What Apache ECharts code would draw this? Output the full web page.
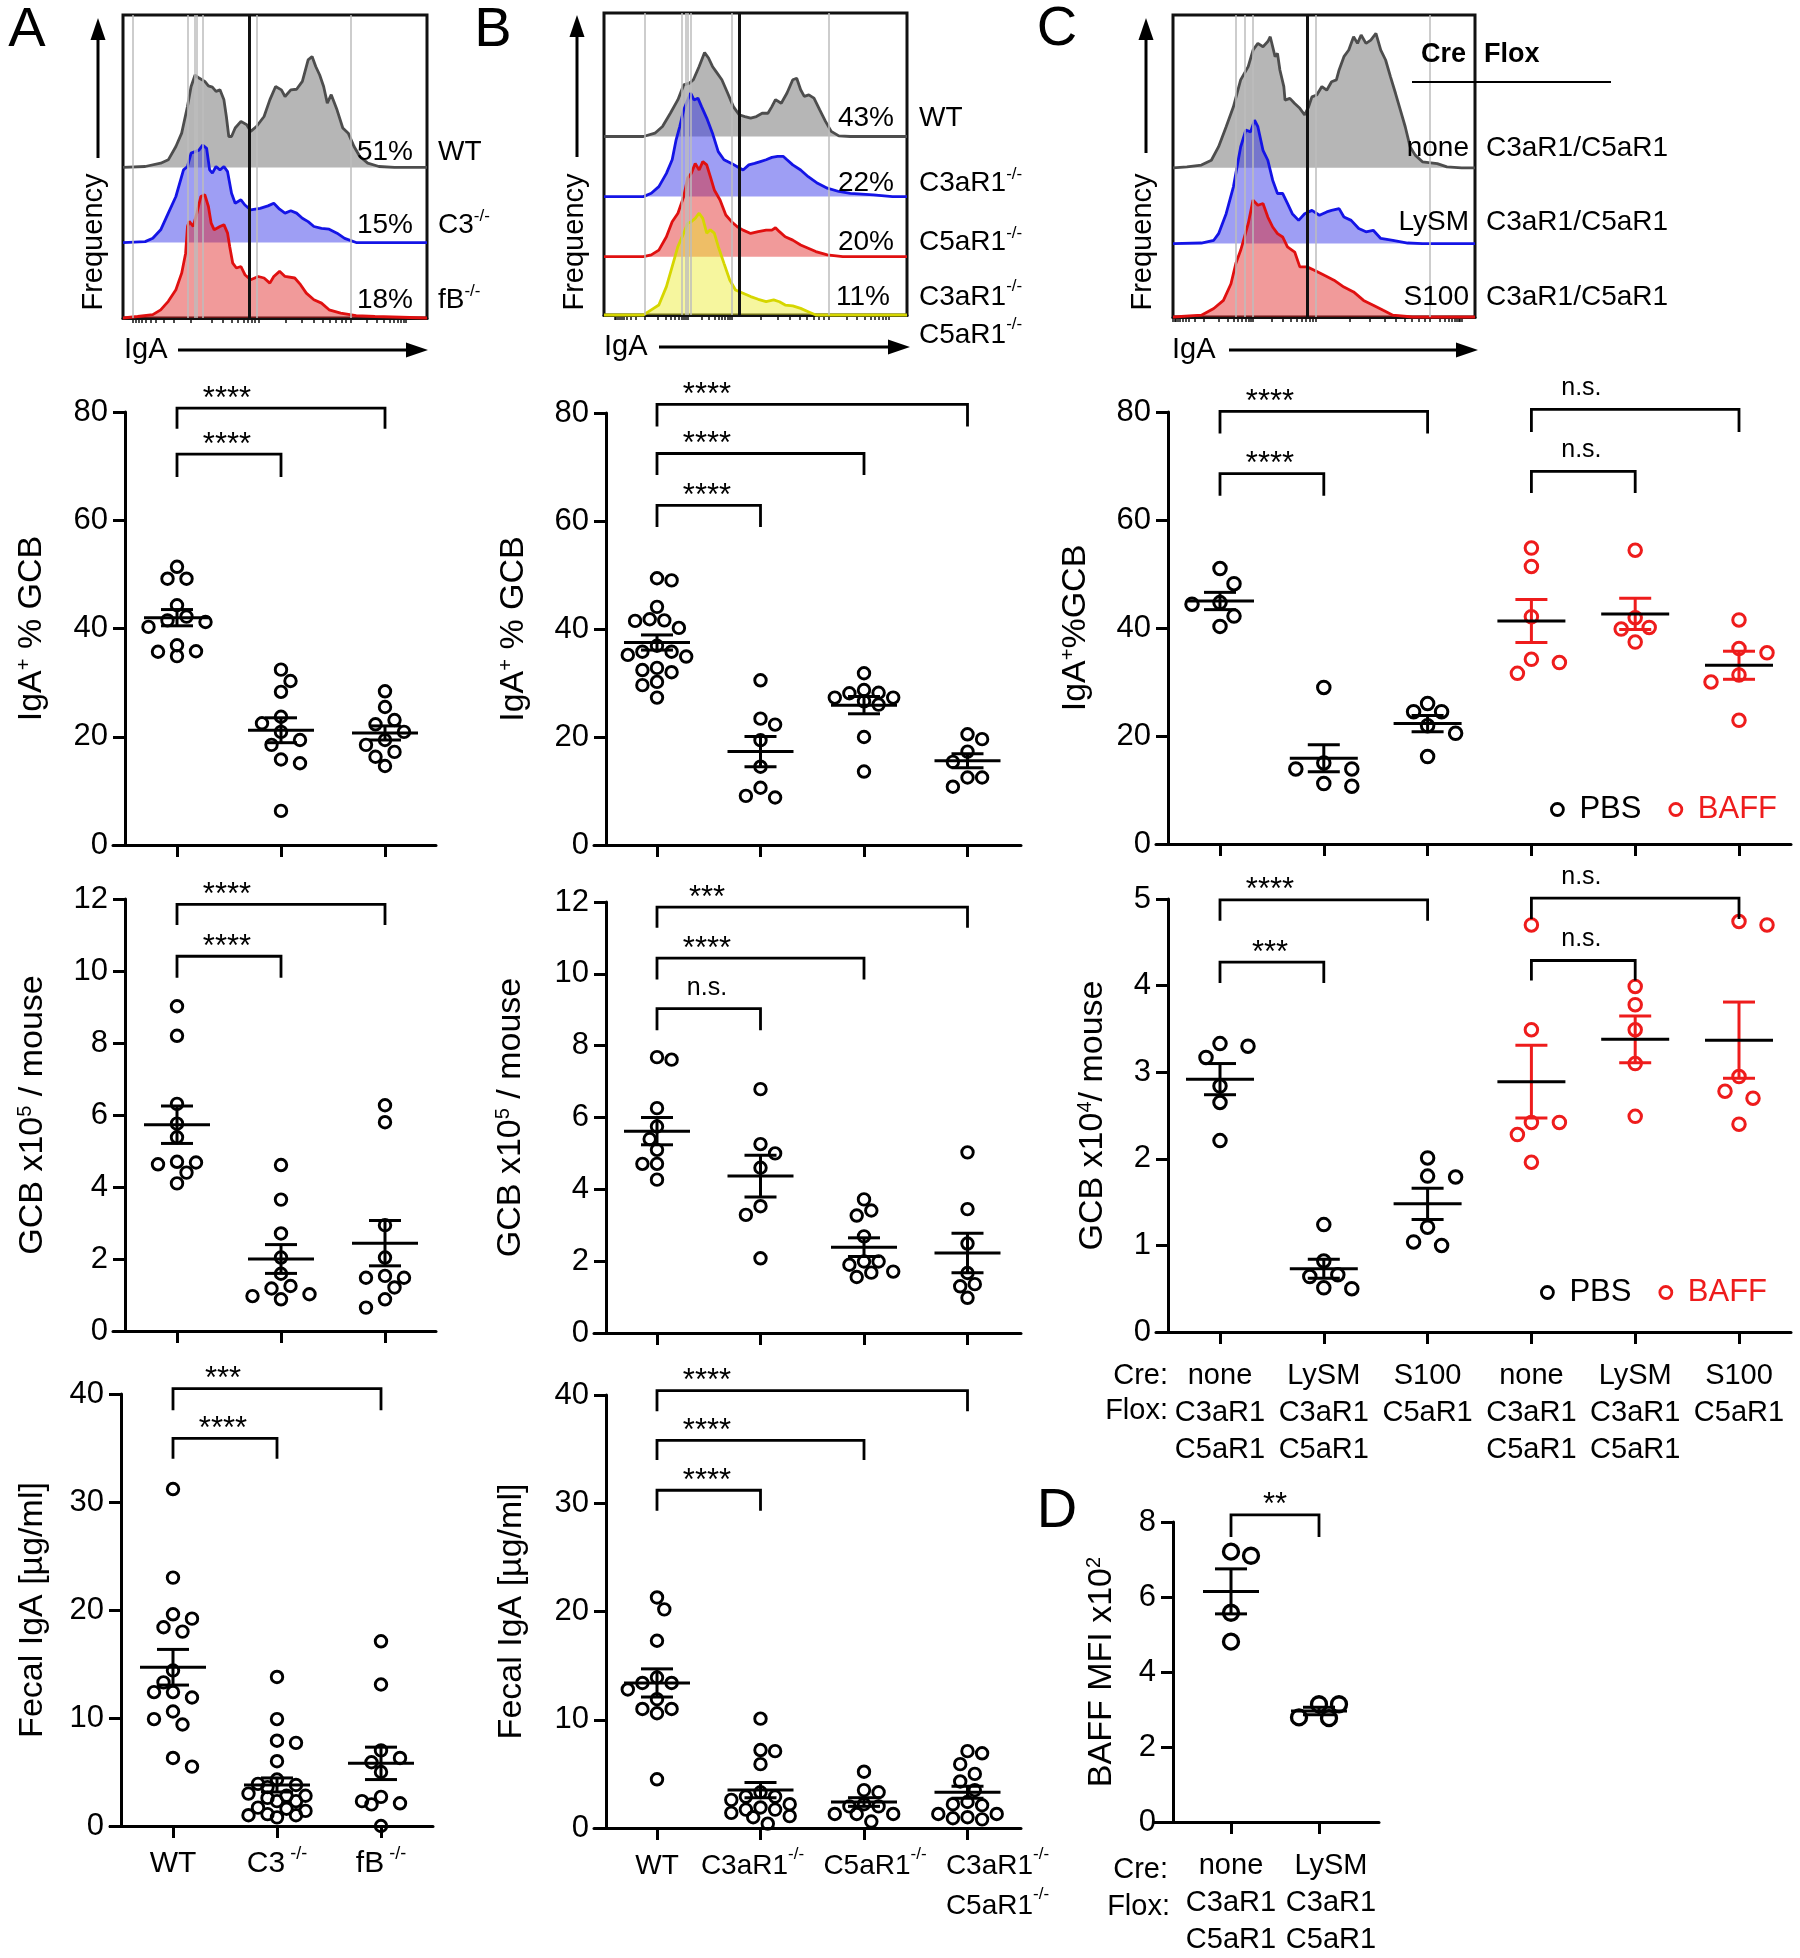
<!DOCTYPE html>
<html>
<head>
<meta charset="utf-8">
<title>Complement receptors and mucosal IgA</title>
<script src="https://cdn.jsdelivr.net/npm/echarts@6.0.0/dist/echarts.min.js"></script>
<style>
  html, body { margin: 0; padding: 0; background: #fff; }
  #chart { width: 1800px; height: 1958px; }
</style>
</head>
<body>
<div id="chart"></div>
<script>
// ---------- flow histograms: [IgA position (% of plotted range), frequency (% of panel height)] ----------
const histA_WT = [[0,0],[7.3,0.3],[12.4,1.4],[14.9,2.5],[17.4,6.9],[19.3,11.3],[21.2,20.1],[22.4,26.7],[23.7,30.5],[25.0,29.5],[26.9,28.4],[28.1,26.9],[29.4,26.5],[30.6,25.1],[31.9,25.6],[33.2,22.3],[34.0,16.8],[34.8,10.2],[35.7,10.2],[36.9,13.0],[38.8,15.2],[40.7,14.1],[42.0,11.9],[43.9,13.5],[46.4,16.8],[48.3,22.3],[50.2,26.7],[52.1,25.6],[53.3,23.4],[55.2,25.6],[57.1,25.8],[59.0,28.4],[60.9,35.5],[62.2,36.6],[63.4,33.3],[64.7,30.5],[66.0,26.7],[67.2,21.2],[68.5,24.0],[70.4,19.0],[72.3,13.0],[74.1,11.3],[76.0,6.9],[77.9,3.6],[80.5,1.4],[84.2,0.3],[89.3,0],[100,0]];
const histA_C3 = [[0,0],[7.3,0.3],[9.8,1.4],[12.4,4.2],[14.9,9.7],[17.4,15.2],[19.9,24.0],[21.2,25.1],[22.4,29.5],[23.7,30.0],[25.0,30.5],[26.2,32.2],[27.5,31.1],[28.5,24.0],[29.4,22.9],[30.6,25.1],[31.9,24.0],[33.2,25.1],[34.4,23.4],[35.7,16.3],[36.9,13.0],[38.8,14.1],[40.1,12.4],[42.0,10.8],[45.1,11.3],[47.7,12.1],[49.6,13.0],[51.5,11.0],[53.3,9.7],[55.2,10.5],[57.1,9.7],[59.0,8.0],[60.9,6.9],[62.8,5.3],[65.3,4.7],[67.8,4.4],[70.4,3.1],[72.9,1.4],[76.7,0],[100,0]];
const histA_fB = [[0,0],[4.8,0.5],[9.8,1.1],[12.4,2.7],[14.9,5.5],[17.4,9.3],[19.3,14.8],[20.6,21.4],[21.2,30.2],[21.8,31.9],[23.1,30.2],[24.3,34.6],[25.6,40.1],[26.9,40.7],[28.1,36.8],[29.0,31.3],[30.0,29.1],[31.9,30.2],[33.2,30.8],[34.4,28.0],[35.1,23.6],[36.1,18.1],[37.3,16.5],[38.8,17.0],[40.1,14.3],[42.0,12.6],[44.5,13.7],[46.4,13.2],[48.3,11.5],[49.6,13.7],[51.5,15.4],[53.3,13.7],[56.5,13.2],[58.4,11.0],[60.3,8.2],[62.8,6.0],[65.3,4.9],[67.8,2.7],[71.6,1.6],[76.7,0.8],[82.9,0.5],[100,0]];
const histA_pct = ['51%', '15%', '18%'];
const histA_names = ['WT', 'C3{s|-/-}', 'fB{s|-/-}'];

const histB_WT = [[0,0],[13.0,0],[16.8,1.1],[19.3,3.3],[21.9,7.7],[24.4,12.2],[26.3,17.1],[28.2,17.7],[29.5,18.8],[31.4,23.2],[33.2,27.8],[34.5,26.0],[35.8,23.2],[37.0,21.5],[38.9,18.8],[40.8,14.4],[42.7,9.9],[44.6,7.2],[46.5,6.6],[48.4,6.1],[50.3,6.6],[52.2,7.7],[54.1,7.7],[55.4,9.9],[56.6,12.2],[58.5,11.0],[60.4,14.4],[62.3,18.8],[63.6,19.3],[64.9,15.5],[66.1,13.3],[67.6,13.8],[69.3,12.7],[71.2,8.8],[73.1,5.0],[75.0,1.7],[77.5,0.2],[81.3,0],[100,0]];
const histB_C3aR1 = [[0,0],[13.0,0],[15.6,1.1],[18.1,3.3],[20.6,7.7],[22.5,12.2],[23.8,18.8],[25.0,23.2],[26.3,28.7],[27.6,32.0],[28.6,34.3],[29.7,32.0],[31.0,32.6],[32.2,29.8],[33.9,26.0],[35.8,21.0],[37.7,14.9],[39.6,12.2],[42.1,11.0],[44.0,9.9],[45.9,8.8],[47.8,10.5],[49.7,11.0],[51.6,11.6],[53.5,12.2],[55.4,13.0],[57.3,13.3],[59.2,13.3],[60.4,12.2],[62.3,10.5],[64.9,8.8],[67.4,6.6],[70.5,4.4],[73.7,2.8],[77.5,1.7],[81.3,1.1],[88.9,0.6],[95.2,0],[100,0]];
const histB_C5aR1 = [[0,0],[13.0,0],[15.6,0.6],[18.1,2.2],[20.6,6.6],[22.5,11.6],[24.4,14.4],[26.3,19.9],[27.6,26.0],[28.8,27.6],[30.1,30.9],[31.4,28.7],[32.6,31.5],[33.9,30.4],[35.1,26.5],[36.4,22.1],[38.3,18.8],[40.2,13.8],[42.1,11.6],[44.0,9.9],[45.9,8.8],[48.4,7.7],[50.9,8.3],[53.5,8.8],[55.4,8.8],[56.6,9.6],[57.9,8.3],[59.8,6.6],[62.3,5.5],[64.9,3.9],[67.4,2.8],[69.9,1.7],[73.7,0.6],[78.8,0],[100,0]];
const histB_DKO = [[0,0],[13.0,0],[15.6,1.7],[18.1,3.3],[20.6,9.4],[22.5,16.0],[24.4,22.7],[26.3,27.1],[27.6,30.4],[28.8,30.9],[30.1,32.0],[31.4,33.7],[32.6,32.0],[33.9,27.1],[35.1,28.2],[36.4,27.1],[37.7,22.7],[39.6,17.1],[41.5,11.6],[43.4,8.3],[45.9,7.2],[48.4,6.1],[50.9,5.2],[53.5,4.4],[56.0,5.0],[57.9,4.4],[59.8,3.3],[62.3,3.0],[64.9,2.2],[67.4,1.1],[69.9,0],[100,0]];
const histB_pct = ['43%', '22%', '20%', '11%'];
const histB_names = ['WT', 'C3aR1{s|-/-}', 'C5aR1{s|-/-}', 'C3aR1{s|-/-}\nC5aR1{s|-/-}'];

const histC_none = [[0,0],[4.6,0.3],[9.4,0.9],[12.7,2.5],[15.1,7.0],[17.6,13.6],[20.0,20.2],[22.4,29.1],[24.9,33.5],[26.5,39.0],[28.1,41.2],[29.8,40.1],[31.4,41.8],[32.2,43.4],[33.8,36.8],[34.6,37.9],[35.4,32.4],[36.7,26.9],[37.1,22.4],[38.7,23.0],[40.3,21.3],[42.0,19.7],[43.6,17.5],[44.9,20.2],[46.0,23.5],[47.6,24.1],[49.3,26.9],[50.9,25.7],[52.5,28.5],[54.1,29.1],[55.0,32.4],[56.6,36.8],[58.2,39.0],[59.8,43.4],[61.1,41.2],[62.3,44.0],[63.9,41.2],[65.5,42.3],[67.2,44.5],[68.8,39.0],[70.4,35.7],[72.0,30.2],[73.7,24.6],[75.3,19.1],[76.9,13.6],[78.5,7.0],[80.2,4.2],[82.6,2.0],[87.5,1.4],[90.7,0.3],[95.6,0],[100,0]];
const histC_LySM = [[0,0],[9.4,0.2],[13.5,1.1],[15.1,3.3],[17.6,9.9],[20.0,18.8],[22.4,32.0],[24.1,37.6],[25.7,37.0],[27.0,40.9],[28.1,38.7],[29.8,30.9],[31.4,27.6],[33.0,21.0],[34.6,16.6],[36.3,16.6],[37.9,13.3],[39.5,9.9],[41.6,7.7],[43.6,9.9],[46.0,11.0],[48.5,9.4],[50.9,10.5],[52.5,11.0],[55.0,11.6],[56.6,8.8],[59.0,7.7],[61.5,5.0],[63.9,3.9],[66.3,4.4],[68.8,1.7],[72.8,1.1],[77.7,0.2],[82.6,0],[100,0]];
const histC_S100 = [[0,0],[9.4,0.6],[13.5,2.8],[16.7,5.5],[19.2,11.0],[20.8,17.7],[22.4,22.1],[24.9,30.9],[26.5,38.7],[28.1,37.0],[29.8,37.6],[31.4,33.1],[33.0,29.8],[34.6,27.6],[36.3,26.5],[37.9,23.2],[40.3,21.5],[42.0,16.6],[44.4,16.6],[46.8,15.5],[50.1,13.8],[53.3,12.2],[56.6,9.9],[59.8,8.3],[63.1,5.5],[66.3,3.9],[69.6,2.2],[72.8,0.6],[79.3,0],[100,0]];
const histC_cre = ['none', 'LySM', 'S100'];
const histC_flox = 'C3aR1/C5aR1';

// ---------- group labels ----------
const groupsA = ['WT', 'C3{s| -/-}', 'fB{s| -/-}'];
const groupsB = ['WT', 'C3aR1{s|-/-}', 'C5aR1{s|-/-}', 'C3aR1{s|-/-}\nC5aR1{s|-/-}'];
const groupsC = ['none\nC3aR1\nC5aR1', 'LySM\nC3aR1\nC5aR1', 'S100\nC5aR1', 'none\nC3aR1\nC5aR1', 'LySM\nC3aR1\nC5aR1', 'S100\nC5aR1'];
const groupsD = ['none\nC3aR1\nC5aR1', 'LySM\nC3aR1\nC5aR1'];
const treatC = ['PBS', 'PBS', 'PBS', 'BAFF', 'BAFF', 'BAFF'];

// ---------- IgA+ % of GC B cells ----------
const igaPctA = [
  [51.4, 49.2, 49.2, 44.3, 42.2, 41.5, 41.2, 40.3, 36.9, 35.8, 35.7, 34.9],
  [32.4, 30.3, 28.3, 23.7, 22.5, 20.9, 19.4, 18.5, 15.8, 15.1, 6.3],
  [28.4, 25.5, 23.1, 22.3, 20.9, 19.4, 18.5, 17.2, 16.3, 14.6]
];
const igaPctA_mean = [42.0, 21.2, 20.7];
const igaPctA_sem = [1.5, 2.3, 1.3];
const igaPctA_sig = [[1, 3, 80.7, 76.9, '****'], [1, 2, 72.2, 68.0, '****']];

const igaPctB = [
  [49.4, 49.0, 44.1, 41.8, 41.6, 41.5, 40.2, 36.9, 35.8, 35.8, 35.2, 34.9, 32.8, 32.4, 32.0, 30.2, 29.6, 27.3],
  [30.5, 23.4, 22.3, 19.4, 14.5, 10.6, 9.1, 8.8],
  [31.8, 28.7, 28.2, 28.1, 27.3, 27.3, 26.6, 26.0, 20.0, 13.6],
  [20.5, 19.6, 17.3, 15.4, 12.5, 12.5, 10.8]
];
const igaPctB_mean = [37.5, 17.3, 25.9, 15.6];
const igaPctB_sem = [1.4, 2.8, 1.6, 1.3];
const igaPctB_sig = [[1, 4, 81.6, 77.5, '****'], [1, 3, 72.5, 68.5, '****'], [1, 2, 62.9, 58.9, '****']];

const igaPctC = [
  [51.0, 48.2, 44.7, 44.4, 42.2, 40.3],
  [29.0, 15.0, 13.9, 13.9, 11.2, 10.7],
  [26.0, 24.5, 24.5, 21.9, 20.5, 16.2],
  [54.8, 51.4, 42.1, 34.2, 33.6, 31.6],
  [54.4, 41.9, 40.1, 39.8, 37.4],
  [41.5, 36.2, 35.4, 31.3, 30.0, 22.9]
];
const igaPctC_mean = [45.0, 15.9, 22.3, 41.3, 42.6, 33.1];
const igaPctC_sem = [1.6, 2.5, 1.5, 4.0, 2.9, 2.6];
const igaPctC_sig = [[1, 3, 80.1, 76.0, '****'], [1, 2, 68.6, 64.5, '****'], [4, 6, 80.5, 76.3, 'n.s.'], [4, 5, 69.0, 65.0, 'n.s.']];

// ---------- GC B cells per mouse ----------
const gcbA = [
  [9.02, 8.20, 6.31, 5.76, 5.38, 4.70, 4.68, 4.63, 4.40, 4.10],
  [4.61, 3.65, 2.71, 2.04, 1.59, 1.25, 1.18, 1.02, 0.97, 0.88],
  [6.27, 5.80, 2.94, 2.04, 1.53, 1.48, 1.48, 1.21, 0.88, 0.65]
];
const gcbA_mean = [5.73, 2.0, 2.44];
const gcbA_sem = [0.52, 0.4, 0.63];
const gcbA_sig = [[1, 3, 11.85, 11.28, '****'], [1, 2, 10.41, 9.81, '****']];

const gcbB = [
  [7.68, 7.61, 6.26, 5.75, 5.40, 5.10, 4.71, 4.71, 4.27],
  [6.79, 5.26, 5.00, 4.60, 3.53, 3.29, 2.08],
  [3.72, 3.41, 3.27, 2.69, 1.99, 1.99, 1.90, 1.71, 1.68, 1.56],
  [5.03, 3.45, 2.49, 1.67, 1.36, 1.30, 0.98]
];
const gcbB_mean = [5.62, 4.37, 2.39, 2.23];
const gcbB_sem = [0.38, 0.58, 0.26, 0.55];
const gcbB_sig = [[1, 4, 11.86, 11.28, '***'], [1, 3, 10.44, 9.84, '****'], [1, 2, 9.03, 8.43, 'n.s.']];

const gcbC = [
  [3.33, 3.30, 3.17, 2.84, 2.65, 2.21],
  [1.24, 0.82, 0.66, 0.64, 0.51, 0.50],
  [2.01, 1.80, 1.79, 1.21, 1.04, 1.00],
  [4.70, 3.49, 2.42, 2.42, 2.28, 1.96],
  [3.99, 3.78, 3.49, 3.10, 2.49],
  [4.74, 4.70, 2.95, 2.78, 2.70, 2.40]
];
const gcbC_mean = [2.92, 0.73, 1.48, 2.89, 3.38, 3.37];
const gcbC_sem = [0.18, 0.11, 0.18, 0.42, 0.27, 0.44];
const gcbC_sig = [[1, 3, 4.99, 4.75, '****'], [1, 2, 4.27, 4.03, '***'], [4, 6, 5.01, 4.77, 'n.s.'], [4, 5, 4.29, 4.06, 'n.s.']];

// ---------- fecal IgA ----------
const fecalA = [
  [31.2, 23.0, 19.6, 19.2, 18.4, 18.0, 14.4, 13.3, 12.4, 12.4, 11.9, 10.6, 9.9, 9.4, 6.3, 5.5],
  [13.8, 9.9, 7.9, 7.7, 6.0, 4.3, 3.9, 3.8, 3.6, 3.0, 2.8, 2.8, 2.6, 2.3, 2.3, 1.7, 1.6, 1.4, 1.1, 1.0, 1.0, 0.8],
  [17.1, 13.1, 7.0, 6.3, 5.9, 5.0, 2.7, 2.3, 2.1, 2.0, 0.0]
];
const fecalA_mean = [14.7, 3.8, 5.8];
const fecalA_sem = [1.65, 0.65, 1.5];
const fecalA_sig = [[1, 3, 40.5, 38.5, '***'], [1, 2, 35.9, 34.0, '****']];

const fecalB = [
  [21.3, 20.2, 17.3, 13.9, 13.4, 13.4, 12.8, 11.9, 11.0, 11.0, 10.6, 4.5],
  [10.1, 7.2, 7.1, 5.9, 3.3, 2.9, 2.9, 2.6, 2.2, 1.9, 1.7, 1.7, 1.4, 1.1, 1.0, 0.4],
  [5.2, 3.5, 3.3, 2.2, 2.0, 2.0, 1.3, 1.3, 1.3, 0.6],
  [7.1, 6.9, 5.9, 5.0, 4.3, 3.5, 2.4, 2.2, 2.1, 1.3, 1.3, 1.0, 0.9, 0.8]
];
const fecalB_mean = [13.4, 3.5, 2.4, 3.3];
const fecalB_sem = [1.3, 0.7, 0.4, 0.55];
const fecalB_sig = [[1, 4, 40.4, 38.5, '****'], [1, 3, 35.8, 34.0, '****'], [1, 2, 31.2, 29.3, '****']];

// ---------- BAFF MFI (D) ----------
const baffD = [[7.21, 7.10, 5.58, 4.81], [3.14, 3.14, 2.79, 2.77]];
const baffD_mean = [6.15, 2.96];
const baffD_sem = [0.6, 0.1];
const baffD_sig = [[1, 2, 8.19, 7.60, '**']];

// =====================================================================
const FONT = '"Liberation Sans", Arial, sans-serif';
const RED = '#ee1c1c';

const option = {
  animation: false,
  backgroundColor: '#fff',
  textStyle: { fontFamily: FONT },
  grid: [], xAxis: [], yAxis: [], series: [], graphic: [], legend: []
};

function supRich(size) {
  const s = Math.round(size * 0.6);
  return { s: { fontSize: s, lineHeight: s, verticalAlign: 'top', fontFamily: FONT, color: '#000', fill: '#000' } };
}

function label(x, y, text, size, style, rotation) {
  const st = Object.assign({
    text: text, fontSize: size, fontFamily: FONT, fill: '#000',
    align: 'left', verticalAlign: 'middle', lineHeight: Math.round(size * 1.2), rich: supRich(size)
  }, style || {});
  option.graphic.push({ type: 'text', x: x, y: y, rotation: rotation || 0, silent: true, z: 10, style: st });
}

function arrow(x1, y1, x2, y2) {
  const a = Math.atan2(y2 - y1, x2 - x1), L = 22, W = 7.5;
  const bx = x2 - L * Math.cos(a), by = y2 - L * Math.sin(a);
  option.graphic.push({ type: 'line', silent: true, z: 10, shape: { x1: x1, y1: y1, x2: bx, y2: by }, style: { stroke: '#000', lineWidth: 3 } });
  option.graphic.push({ type: 'polygon', silent: true, z: 10, shape: { points: [[x2, y2], [bx - W * Math.sin(a), by + W * Math.cos(a)], [bx + W * Math.sin(a), by - W * Math.cos(a)]] }, style: { fill: '#000' } });
}

// log-like tick marks between decade positions
function logTicks(dec) {
  const t = [];
  for (let i = 0; i < dec.length - 1; i++) {
    const a = dec[i], b = dec[i + 1];
    t.push(a);
    for (let k = 2; k < 10; k++) t.push(i === 0 ? b - (b - a) * Math.log10(k) : a + (b - a) * Math.log10(k));
  }
  t.push(dec[dec.length - 1]);
  return t;
}

function histogram(h) {
  const gi = option.grid.length;
  option.grid.push({ left: h.left, top: h.top, width: h.width, height: h.height, show: true, borderColor: '#111', borderWidth: 3, backgroundColor: 'rgba(0,0,0,0)' });
  option.xAxis.push({
    gridIndex: gi, type: 'value', min: 0, max: 100,
    axisLine: { onZero: false, lineStyle: { color: '#111', width: 3 } },
    axisTick: { customValues: logTicks(h.decades), length: 5, lineStyle: { color: '#111', width: 1.5 } },
    axisLabel: { show: false }, splitLine: { show: false }
  });
  option.yAxis.push({ gridIndex: gi, type: 'value', min: 0, max: 100, show: false });
  option.series.push({
    type: 'line', xAxisIndex: gi, yAxisIndex: gi, data: [], z: 1, silent: true,
    markLine: { symbol: 'none', silent: true, label: { show: false }, lineStyle: { color: '#bdbdbd', width: 1.5, type: 'solid' }, data: h.grayLines.map(v => ({ xAxis: v })) }
  });
  h.curves.forEach(c => {
    const ci = option.grid.length;
    option.grid.push({ left: h.left, top: h.top, width: h.width, height: h.height * c.base / 100 });
    option.xAxis.push({ gridIndex: ci, type: 'value', min: 0, max: 100, show: false });
    option.yAxis.push({ gridIndex: ci, type: 'value', min: 0, max: c.base, show: false });
    option.series.push({
      type: 'line', xAxisIndex: ci, yAxisIndex: ci, data: c.data, showSymbol: false, symbol: 'none',
      clip: false, silent: true, z: 2,
      lineStyle: { color: c.line, width: 2.8 }, areaStyle: { color: c.fill, opacity: 1 }
    });
  });
  option.series.push({
    type: 'line', xAxisIndex: gi, yAxisIndex: gi, data: [], z: 6, silent: true,
    markLine: { symbol: 'none', silent: true, label: { show: false }, lineStyle: { color: '#111', width: 3, type: 'solid' }, data: [{ xAxis: h.gate }] }
  });
}

// beeswarm: spread points of similar value sideways (pixel space), capped width
function swarm(vals, pxY, step, dist, kMax) {
  const order = vals.map((v, i) => i).sort((a, b) => vals[b] - vals[a]);
  const placed = [], out = [];
  let bal = 0;
  order.forEach(i => {
    const y = vals[i] * pxY;
    let chosen = null, best = 0, bestD = -1;
    for (let k = 0; k <= kMax && chosen === null; k++) {
      const cands = k === 0 ? [0] : (bal > 0 ? [-k * step, k * step] : [k * step, -k * step]);
      for (const c of cands) {
        const d = placed.reduce((m, p) => Math.min(m, Math.hypot(p[0] - c, p[1] - y)), Infinity);
        if (d >= dist) { chosen = c; break; }
        if (d > bestD) { bestD = d; best = c; }
      }
    }
    if (chosen === null) chosen = best;
    placed.push([chosen, y]);
    out[i] = chosen;
    bal += chosen;
  });
  return out;
}

function scatterPanel(p) {
  const gi = option.grid.length;
  const pos = p.values.map((_, i) => i + 1);
  const pxY = (p.bottom - p.top) / p.max;
  const treat = p.treat || p.values.map(() => 'all');
  const colorOf = t => (t === 'BAFF' ? RED : '#000');
  const shifts = p.labelShift || [];
  const rich = supRich(p.labelSize || 30);
  shifts.forEach(s => { if (s) rich['w' + Math.abs(s)] = { width: 2 * Math.abs(s), fontSize: 4 }; });
  const xmin = 1 - (p.firstX - p.xStart) / p.step;
  const xmax = 1 + (p.xEnd - p.firstX) / p.step;
  option.grid.push({ left: p.xStart, top: p.top, width: p.xEnd - p.xStart, height: p.bottom - p.top });
  option.xAxis.push({
    gridIndex: gi, type: 'value', min: xmin, max: xmax,
    axisLine: { onZero: false, lineStyle: { color: '#000', width: 3 } },
    axisTick: { customValues: pos, length: 12, lineStyle: { color: '#000', width: 3 } },
    // blank end labels absorb the library's min/max label overlap check
    axisLabel: p.labels ? {
      customValues: [xmin].concat(pos, [xmax]), hideOverlap: false, interval: 0,
      formatter: v => {
        const i = Math.round(v) - 1;
        if (Math.abs(v - (i + 1)) > 1e-6 || !p.labels[i]) return ' ';
        const sh = shifts[i] || 0, txt = p.labels[i];
        if (!sh) return txt;
        const pad = '{w' + Math.abs(sh) + '| }';
        return txt.split('\n').map(l => (sh > 0 ? pad + l : l + pad)).join('\n');
      },
      margin: p.labelMargin, fontSize: p.labelSize, lineHeight: p.labelLine, fontFamily: FONT, color: '#000',
      align: 'center', rich: rich
    } : { show: false },
    splitLine: { show: false }
  });
  option.yAxis.push({
    gridIndex: gi, type: 'value', min: 0, max: p.max, interval: p.interval,
    offset: p.xStart - p.axisX,
    axisLine: { show: true, onZero: false, lineStyle: { color: '#000', width: 3 } },
    axisTick: { show: true, length: 12, lineStyle: { color: '#000', width: 3 } },
    axisLabel: { margin: 17, fontSize: 31, fontFamily: FONT, color: '#000' },
    splitLine: { show: false },
    name: p.name, nameLocation: 'middle', nameRotate: 90, nameGap: p.nameGap,
    nameTextStyle: { fontSize: 34, lineHeight: 36, fontFamily: FONT, color: '#000', rich: supRich(34) }
  });
  [...new Set(treat)].forEach(t => {
    const data = [];
    p.values.forEach((vals, g) => {
      if (treat[g] !== t) return;
      const offs = swarm(vals, pxY, p.swStep, p.swDist, p.swMax);
      vals.forEach((v, j) => data.push([g + 1 + offs[j] / p.step, v]));
    });
    option.series.push({
      type: 'scatter', name: t, xAxisIndex: gi, yAxisIndex: gi, data: data,
      symbol: 'circle', symbolSize: p.sym, clip: false, silent: true, z: 4,
      itemStyle: { color: 'rgba(255,255,255,0)', borderColor: colorOf(t), borderWidth: p.symBorder, opacity: 1 }
    });
  });
  // mean +/- SEM
  option.series.push({
    type: 'custom', xAxisIndex: gi, yAxisIndex: gi, z: 5, silent: true,
    data: p.mean.map((m, i) => [i + 1, m, p.sem[i]]),
    renderItem: (params, api) => {
      const x = api.value(0), m = api.value(1), s = api.value(2);
      const c = api.coord([x, m]), t = api.coord([x, m + s]), b = api.coord([x, m - s]);
      const col = colorOf(treat[params.dataIndex]);
      const mw = p.meanHalf, cw = 16;
      const ln = (x1, y1, x2, y2, k) => ({ type: 'line', shape: { x1: x1, y1: y1, x2: x2, y2: y2 }, style: { stroke: k, lineWidth: 3 } });
      return { type: 'group', children: [
        ln(c[0], t[1], c[0], b[1], col),
        ln(c[0] - cw, t[1], c[0] + cw, t[1], col),
        ln(c[0] - cw, b[1], c[0] + cw, b[1], col),
        ln(c[0] - mw, c[1], c[0] + mw, c[1], '#000')
      ] };
    }
  });
  // significance brackets
  option.series.push({
    type: 'custom', xAxisIndex: gi, yAxisIndex: gi, z: 5, silent: true,
    data: p.sig.map(s => [s[0], s[1], s[2], s[3]]),
    renderItem: (params, api) => {
      const txt = p.sig[params.dataIndex][4];
      const a = api.coord([api.value(0), api.value(2)]);
      const b = api.coord([api.value(1), api.value(2)]);
      const leg = api.coord([api.value(0), api.value(3)]);
      const ns = txt === 'n.s.';
      return { type: 'group', children: [
        { type: 'polyline', shape: { points: [[a[0], leg[1]], [a[0], a[1]], [b[0], b[1]], [b[0], leg[1]]] }, style: { stroke: '#000', lineWidth: 2.8, fill: null } },
        { type: 'text', style: { text: txt, x: Math.min(a[0] + 50, (a[0] + b[0]) / 2), y: a[1] - (ns ? 21 : 9), fill: '#000', fontSize: ns ? 25 : 31, fontFamily: FONT, align: 'center', verticalAlign: 'middle' } }
      ] };
    }
  });
}

// ---------------- histograms ----------------
const GREY = { line: '#4d4d4d', fill: 'rgba(110,110,110,0.5)' };
const BLUE = { line: '#1414e6', fill: 'rgba(40,40,230,0.45)' };
const REDF = { line: '#e01010', fill: 'rgba(225,30,30,0.45)' };
const YELL = { line: '#d6d600', fill: 'rgba(235,235,40,0.45)' };

histogram({ left: 123, top: 15, width: 304, height: 303, gate: 41.4,
  grayLines: [3.3, 21.2, 23.5, 24.1, 26.2, 43.9, 74.8], decades: [3.3, 22.4, 44.5, 74.8, 93.1],
  curves: [Object.assign({ data: histA_WT, base: 50.3 }, GREY), Object.assign({ data: histA_C3, base: 75.1 }, BLUE), Object.assign({ data: histA_fB, base: 100 }, REDF)] });
histogram({ left: 604, top: 13, width: 303, height: 302, gate: 44.6,
  grayLines: [13.4, 25.7, 26.9, 27.8, 28.6, 42.1, 74.1], decades: [3.5, 13.4, 27.8, 42.1, 74.1, 93.9],
  curves: [Object.assign({ data: histB_WT, base: 40.9 }, GREY), Object.assign({ data: histB_C3aR1, base: 60.8 }, BLUE), Object.assign({ data: histB_C5aR1, base: 80.7 }, REDF), Object.assign({ data: histB_DKO, base: 100 }, YELL)] });
histogram({ left: 1173, top: 15, width: 302, height: 302, gate: 44.4,
  grayLines: [20.8, 23.7, 26.5, 47.3, 85.0], decades: [0, 10.2, 26.5, 47.3, 85.0, 95.6],
  curves: [Object.assign({ data: histC_none, base: 50.6 }, GREY), Object.assign({ data: histC_LySM, base: 75.7 }, BLUE), Object.assign({ data: histC_S100, base: 100 }, REDF)] });

// histogram annotations
[152, 225, 300].forEach((y, i) => { label(413, y, histA_pct[i], 28, { align: 'right' }); label(438, y, histA_names[i], 28, { lineHeight: 34 }); });
[118, 183, 242, 297].forEach((y, i) => { label(i === 3 ? 890 : 894, y, histB_pct[i], 28, { align: 'right' }); });
[118, 183, 242].forEach((y, i) => label(919, y, histB_names[i], 28, { lineHeight: 34 }));
label(919, 316, histB_names[3], 28, { lineHeight: 38 });
label(1466, 55, 'Cre', 27, { align: 'right', fontWeight: 'bold' });
label(1484, 55, 'Flox', 27, { fontWeight: 'bold' });
option.graphic.push({ type: 'line', silent: true, z: 10, shape: { x1: 1412, y1: 82, x2: 1611, y2: 82 }, style: { stroke: '#000', lineWidth: 2 } });
[148, 222, 297].forEach((y, i) => { label(1469, y, histC_cre[i], 28, { align: 'right' }); label(1486, y, histC_flox, 28); });
[[94, 98, 158, 18], [575, 577, 157, 15], [1143, 1146, 153, 18]].forEach(f => {
  label(f[0], 242, 'Frequency', 29, { align: 'center' }, Math.PI / 2);
  arrow(f[1], f[2], f[1], f[3]);
});
[[124, 178, 428, 350], [604, 659, 910, 347], [1172, 1229, 1478, 350]].forEach(f => {
  label(f[0], f[3], 'IgA', 29);
  arrow(f[1], f[3], f[2], f[3]);
});
[['A', 27, 31], ['B', 493, 31], ['C', 1057, 30], ['D', 1057, 1512]].forEach(l => label(l[1], l[2], l[0], 56, { align: 'center' }));

// ---------------- dot plots ----------------
const colA = { xStart: 113, axisX: 125, firstX: 177, step: 104, xEnd: 436, swStep: 9.5, swDist: 13, swMax: 3, sym: 11.5, symBorder: 2.9, meanHalf: 33 };
const colB = { xStart: 594, axisX: 606, firstX: 657, step: 103.5, xEnd: 1021, swStep: 7.3, swDist: 13, swMax: 4, sym: 11.5, symBorder: 2.9, meanHalf: 33 };
const colC = { xStart: 1156, axisX: 1168, firstX: 1220, step: 103.8, xEnd: 1791, swStep: 14, swDist: 16, swMax: 2, sym: 12.5, symBorder: 3, meanHalf: 34 };
const colD = { xStart: 1154, axisX: 1173, firstX: 1231, step: 88, xEnd: 1379, swStep: 10, swDist: 19, swMax: 3, sym: 15, symBorder: 3.3, meanHalf: 28 };

const NAME_IGA = 'IgA{s|+} % GCB';
const NAME_GCB5 = 'GCB x10{s|5} / mouse';
const NAME_FECAL = 'Fecal IgA [µg/ml]';

scatterPanel(Object.assign({}, colA, { top: 412, bottom: 845, max: 80, interval: 20, name: NAME_IGA, nameGap: 75,
  values: igaPctA, mean: igaPctA_mean, sem: igaPctA_sem, sig: igaPctA_sig }));
scatterPanel(Object.assign({}, colB, { top: 413, bottom: 845, max: 80, interval: 20, name: NAME_IGA, nameGap: 74,
  values: igaPctB, mean: igaPctB_mean, sem: igaPctB_sem, sig: igaPctB_sig }));
scatterPanel(Object.assign({}, colC, { top: 412, bottom: 844, max: 80, interval: 20, name: 'IgA{s|+}%GCB', nameGap: 74,
  values: igaPctC, mean: igaPctC_mean, sem: igaPctC_sem, sig: igaPctC_sig, treat: treatC }));

scatterPanel(Object.assign({}, colA, { top: 899, bottom: 1331, max: 12, interval: 2, name: NAME_GCB5, nameGap: 74,
  values: gcbA, mean: gcbA_mean, sem: gcbA_sem, sig: gcbA_sig }));
scatterPanel(Object.assign({}, colB, { top: 902, bottom: 1333, max: 12, interval: 2, name: NAME_GCB5, nameGap: 77,
  values: gcbB, mean: gcbB_mean, sem: gcbB_sem, sig: gcbB_sig }));
scatterPanel(Object.assign({}, colC, { top: 899, bottom: 1332, max: 5, interval: 1, name: 'GCB x10{s|4}/ mouse', nameGap: 57,
  values: gcbC, mean: gcbC_mean, sem: gcbC_sem, sig: gcbC_sig, treat: treatC,
  labels: groupsC, labelSize: 29, labelLine: 37, labelMargin: 25 }));

scatterPanel(Object.assign({}, colA, { xStart: 110, axisX: 121, firstX: 173, xEnd: 433, top: 1394, bottom: 1826, max: 40, interval: 10, name: NAME_FECAL, nameGap: 70,
  values: fecalA, mean: fecalA_mean, sem: fecalA_sem, sig: fecalA_sig,
  labels: groupsA, labelSize: 30, labelLine: 37, labelMargin: 19 }));
scatterPanel(Object.assign({}, colB, { top: 1395, bottom: 1828, max: 40, interval: 10, name: NAME_FECAL, nameGap: 76,
  values: fecalB, mean: fecalB_mean, sem: fecalB_sem, sig: fecalB_sig,
  labels: groupsB, labelSize: 28, labelLine: 40, labelMargin: 18, labelShift: [0, -8, 11, 30] }));

scatterPanel(Object.assign({}, colD, { top: 1522, bottom: 1826, max: 8, interval: 2, name: 'BAFF MFI x10{s|2}', nameGap: 53,
  values: baffD, mean: baffD_mean, sem: baffD_sem, sig: baffD_sig,
  labels: groupsD, labelSize: 29, labelLine: 37, labelMargin: 25, labelShift: [0, 12] }));

// row headers for genotype labels
label(1168, 1376, 'Cre:', 29, { align: 'right' });
label(1168, 1411, 'Flox:', 29, { align: 'right' });
label(1168, 1870, 'Cre:', 29, { align: 'right' });
label(1170, 1907, 'Flox:', 29, { align: 'right' });

// PBS / BAFF keys
const legendItems = [
  { name: 'PBS', itemStyle: { color: 'rgba(255,255,255,0)', borderColor: '#000', borderWidth: 2.8 }, textStyle: { color: '#000', fontSize: 31, fontFamily: FONT } },
  { name: 'BAFF', itemStyle: { color: 'rgba(255,255,255,0)', borderColor: RED, borderWidth: 2.8 }, textStyle: { color: RED, fontSize: 31, fontFamily: FONT } }
];
[[1550, 794], [1540, 1277]].forEach(pt => option.legend.push({
  left: pt[0], top: pt[1], padding: 0, itemWidth: 34, itemHeight: 12, itemGap: 27, selectedMode: false,
  icon: 'circle', data: legendItems, textStyle: { fontSize: 31, fontFamily: FONT }
}));

const chart = echarts.init(document.getElementById('chart'));
chart.setOption(option);
</script>
</body>
</html>
